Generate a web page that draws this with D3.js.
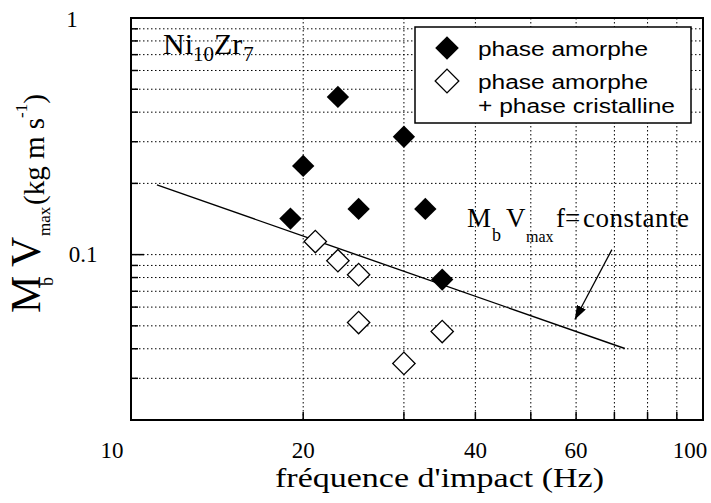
<!DOCTYPE html>
<html>
<head>
<meta charset="utf-8">
<script src="https://cdn.jsdelivr.net/npm/d3@7"></script>
<style>
  body { margin: 0; background: #fff; }
  svg { display: block; }
  .grid line { stroke: #000; stroke-width: 1; stroke-dasharray: 1.5, 2.5; }
  .serif { font-family: "Liberation Serif", "Times New Roman", serif; }
  .sans { font-family: "Liberation Sans", Arial, sans-serif; }
</style>
</head>
<body>
<svg></svg>
<script>
// phase amorphe (filled diamonds)
const freqAmorphe = [19, 20, 23, 25, 30, 32.7, 35];
const mvAmorphe = [0.142, 0.237, 0.464, 0.156, 0.315, 0.156, 0.0784];
// phase amorphe + phase cristalline (open diamonds)
const freqMixte = [21, 23, 25, 25, 35, 30];
const mvMixte = [0.1135, 0.0943, 0.0823, 0.0516, 0.0473, 0.0347];
// MbVmax f = constante line and its arrow
const freqConst = [11.1, 73];
const mvConst = [0.197, 0.0401];
const arrowFreq = [69.3, 59.7];
const arrowMv = [0.105, 0.0532];
// axes
const xTicks = [10, 20, 40, 60, 100];
const xGrid = [20, 30, 40, 50, 60, 70, 80, 90];
const yTicks = [0.1, 1];
const yTickText = ["0.1", "1"];
const yGrid = [0.02, 0.03, 0.04, 0.05, 0.06, 0.07, 0.08, 0.09, 0.1,
               0.2, 0.3, 0.4, 0.5, 0.6, 0.7, 0.8, 0.9];
const legendLabels = [["phase amorphe"], ["phase amorphe", "+ phase cristalline"]];
const legendWidths = [[170], [170, 197]];

window.onload = () => {
    let width = 711, height = 503;
    let svg = d3.select("svg").attr("width", width).attr("height", height);

    let x = d3.scaleLog().domain([10, 100]).range([131, 703]);
    let y = d3.scaleLog().domain([0.02, 1]).range([420, 18]);

    // dotted grid
    let grid = svg.append("g").attr("class", "grid");
    grid.selectAll("line.v").data(xGrid).enter().append("line")
        .attr("class", "v")
        .attr("x1", d => x(d)).attr("x2", d => x(d))
        .attr("y1", y(1)).attr("y2", y(0.02));
    grid.selectAll("line.h").data(yGrid).enter().append("line")
        .attr("class", "h")
        .attr("x1", x(10)).attr("x2", x(100))
        .attr("y1", d => y(d)).attr("y2", d => y(d));

    // tick marks (inward)
    svg.append("g").selectAll("line").data(yGrid).enter().append("line")
        .attr("x1", x(10)).attr("x2", d => x(10) + (d === 0.1 ? 13 : 7))
        .attr("y1", d => y(d)).attr("y2", d => y(d))
        .attr("stroke", "#000").attr("stroke-width", 1.5);
    svg.append("g").selectAll("line").data(xGrid).enter().append("line")
        .attr("x1", d => x(d)).attr("x2", d => x(d))
        .attr("y1", y(0.02)).attr("y2", y(0.02) - 8)
        .attr("stroke", "#000").attr("stroke-width", 1.5);

    // frame
    svg.append("rect")
        .attr("x", x(10)).attr("y", y(1))
        .attr("width", x(100) - x(10)).attr("height", y(0.02) - y(1))
        .attr("fill", "none").attr("stroke", "#000").attr("stroke-width", 2);

    // tick labels
    svg.append("g").attr("class", "serif").selectAll("text").data(xTicks).enter().append("text")
        .attr("x", d => x(d) + (d === 10 ? -19 : d === 100 ? -13 : 0))
        .attr("y", 458)
        .attr("text-anchor", "middle")
        .attr("font-size", 23)
        .text(d => d);
    svg.append("g").attr("class", "serif").selectAll("text").data(yTicks).enter().append("text")
        .attr("x", d => d === 1 ? 72 : 83)
        .attr("y", d => y(d) + (d === 1 ? 9 : 7))
        .attr("text-anchor", "middle")
        .attr("font-size", 23)
        .text((d, i) => yTickText[i]);

    // constant line
    let line = d3.line().x(d => x(d[0])).y(d => y(d[1]));
    svg.append("path")
        .datum(d3.zip(freqConst, mvConst))
        .attr("d", line)
        .attr("fill", "none").attr("stroke", "#000").attr("stroke-width", 1.4);

    // arrow
    svg.append("defs").append("marker")
        .attr("id", "arrow")
        .attr("markerUnits", "userSpaceOnUse")
        .attr("viewBox", "0 0 14 10")
        .attr("markerWidth", 14).attr("markerHeight", 10)
        .attr("refX", 14).attr("refY", 5)
        .attr("orient", "auto")
        .append("path").attr("d", "M0,0 L14,5 L0,10 Z").attr("fill", "#000");
    svg.append("path")
        .datum(d3.zip(arrowFreq, arrowMv))
        .attr("d", line)
        .attr("fill", "none").attr("stroke", "#000").attr("stroke-width", 1.3)
        .attr("marker-end", "url(#arrow)");

    // markers
    let diamond = d3.symbol().type(d3.symbolSquare).size(250);
    svg.append("g").selectAll("path").data(d3.zip(freqAmorphe, mvAmorphe)).enter().append("path")
        .attr("d", diamond)
        .attr("transform", d => "translate(" + x(d[0]) + "," + y(d[1]) + ") rotate(45)")
        .attr("fill", "#000");
    svg.append("g").selectAll("path").data(d3.zip(freqMixte, mvMixte)).enter().append("path")
        .attr("d", diamond)
        .attr("transform", d => "translate(" + x(d[0]) + "," + y(d[1]) + ") rotate(45)")
        .attr("fill", "#fff").attr("stroke", "#000").attr("stroke-width", 1.3);

    // legend
    let legend = svg.append("g").attr("class", "sans");
    legend.append("rect")
        .attr("x", 415).attr("y", 27).attr("width", 276).attr("height", 96)
        .attr("fill", "#fff").attr("stroke", "#000").attr("stroke-width", 1.5);
    let entryY = [48, 81];
    let legendDiamond = d3.symbol().type(d3.symbolSquare).size(280);
    legendLabels.forEach((lines, i) => {
        legend.append("path")
            .attr("d", legendDiamond)
            .attr("transform", "translate(447," + entryY[i] + ") rotate(45)")
            .attr("fill", i === 0 ? "#000" : "#fff")
            .attr("stroke", "#000").attr("stroke-width", i === 0 ? 0 : 1.3);
        lines.forEach((t, j) => {
            legend.append("text")
                .attr("x", 478).attr("y", entryY[i] + 7.5 + j * 24)
                .attr("font-size", 20)
                .attr("textLength", legendWidths[i][j]).attr("lengthAdjust", "spacingAndGlyphs")
                .text(t);
        });
    });

    // Ni10Zr7 label
    let ni = svg.append("text").attr("class", "serif").attr("x", 163).attr("y", 54).attr("font-size", 30);
    ni.append("tspan").text("Ni");
    ni.append("tspan").attr("font-size", 21).attr("dy", 7).text("10");
    ni.append("tspan").attr("dy", -7).text("Zr");
    ni.append("tspan").attr("font-size", 21).attr("dy", 7).attr("dx", 1).text("7");

    // annotation
    let ann = svg.append("text").attr("class", "serif").attr("y", 227).attr("font-size", 27);
    ann.append("tspan").attr("x", 467).text("M");
    ann.append("tspan").attr("x", 492).attr("y", 241).attr("font-size", 18).text("b");
    ann.append("tspan").attr("x", 506).attr("y", 227).text("V");
    ann.append("tspan").attr("x", 526).attr("y", 242).attr("font-size", 16).text("max");
    ann.append("tspan").attr("x", 556).attr("y", 227).text("f=");
    ann.append("tspan").attr("x", 583).attr("y", 227).attr("textLength", 106).text("constante");

    // x title
    svg.append("text").attr("class", "serif")
        .attr("x", 275).attr("y", 487)
        .attr("font-size", 28)
        .attr("textLength", 329).attr("lengthAdjust", "spacingAndGlyphs")
        .text("fréquence d'impact (Hz)");

    // y title
    let yt = svg.append("text").attr("class", "serif")
        .attr("transform", "translate(40,313) rotate(-90)");
    yt.append("tspan").attr("x", 0).attr("y", 0).attr("font-size", 42).text("M");
    yt.append("tspan").attr("x", 27).attr("y", 13).attr("font-size", 18).text("b");
    yt.append("tspan").attr("x", 46).attr("y", 0).attr("font-size", 42).text("V");
    yt.append("tspan").attr("x", 77).attr("y", 10).attr("font-size", 17).text("max");
    yt.append("tspan").attr("x", 108).attr("y", 4).attr("font-size", 29).text("(kg m s");
    yt.append("tspan").attr("dy", -17).attr("font-size", 17).text("-1");
    yt.append("tspan").attr("dy", 17).attr("font-size", 29).text(")");
};
</script>
</body>
</html>
